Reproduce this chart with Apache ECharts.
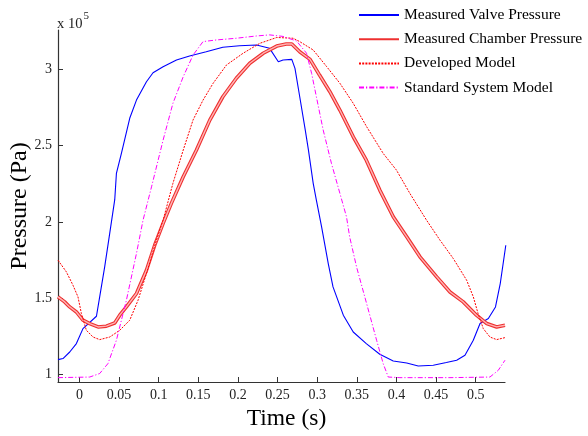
<!DOCTYPE html>
<html><head><meta charset="utf-8">
<script src="https://cdn.jsdelivr.net/npm/echarts@6/dist/echarts.min.js"></script>
<style>html,body{margin:0;padding:0;background:#fff}#c{width:588px;height:436px}</style>
</head><body><div id="c"></div>
<script>
// Time (s) and pressure (x 1e5 Pa)
var valveT = [-0.027,-0.0207,-0.0122,-0.0038,0.0045,0.0215,0.0256,0.0319,0.0383,0.0446,0.0467,0.053,0.0635,0.072,0.0846,0.0929,0.1056,0.1225,0.139,0.160,0.181,0.202,0.2235,0.240,0.251,0.257,0.268,0.272,0.278,0.285,0.289,0.295,0.299,0.3056,0.314,0.320,0.333,0.3455,0.362,0.379,0.396,0.413,0.4275,0.4465,0.463,0.476,0.4865,0.497,0.5055,0.516,0.525,0.531,0.538];
var valveP = [1.098,1.105,1.148,1.203,1.301,1.382,1.509,1.705,1.926,2.145,2.317,2.448,2.678,2.797,2.917,2.976,3.016,3.060,3.086,3.114,3.143,3.153,3.158,3.136,3.048,3.060,3.064,3.005,2.819,2.600,2.470,2.252,2.142,1.967,1.727,1.574,1.389,1.279,1.203,1.133,1.089,1.076,1.056,1.061,1.079,1.094,1.126,1.225,1.334,1.367,1.443,1.596,1.847];

var chamberT = [-0.027,-0.0186,-0.0122,-0.0038,0.0045,0.013,0.0235,0.034,0.0446,0.0509,0.0593,0.072,0.0846,0.095,0.1056,0.116,0.131,0.1477,0.1645,0.181,0.198,0.215,0.232,0.249,0.261,0.268,0.278,0.291,0.303,0.316,0.3286,0.3455,0.362,0.379,0.396,0.413,0.4297,0.4508,0.4676,0.4843,0.501,0.514,0.5265,0.537];
var chamberP = [1.509,1.476,1.443,1.410,1.356,1.334,1.312,1.317,1.338,1.389,1.443,1.531,1.683,1.847,1.990,2.121,2.295,2.470,2.666,2.819,2.940,3.038,3.104,3.151,3.164,3.164,3.114,3.064,2.961,2.852,2.732,2.557,2.404,2.208,2.033,1.902,1.771,1.640,1.541,1.476,1.389,1.334,1.312,1.323];

var developedT = [-0.027,-0.0164,-0.0081,-0.0018,0.0025,0.0088,0.0172,0.0256,0.0383,0.0509,0.0635,0.074,0.0846,0.0972,0.1056,0.118,0.131,0.1434,0.156,0.1687,0.1856,0.2066,0.2277,0.249,0.2697,0.278,0.295,0.312,0.3287,0.3455,0.3624,0.3833,0.400,0.417,0.438,0.455,0.4717,0.4886,0.497,0.503,0.5096,0.518,0.5265,0.537];
var developedP = [1.749,1.672,1.585,1.509,1.400,1.290,1.246,1.229,1.246,1.290,1.356,1.487,1.662,1.880,2.011,2.252,2.470,2.667,2.797,2.907,3.027,3.104,3.169,3.207,3.202,3.180,3.125,3.016,2.907,2.776,2.623,2.448,2.339,2.186,2.011,1.880,1.760,1.618,1.509,1.400,1.301,1.246,1.229,1.242];

var standardT = [-0.027,0.013,0.0256,0.036,0.0467,0.0593,0.072,0.0803,0.091,0.1056,0.118,0.131,0.1434,0.156,0.173,0.198,0.2235,0.240,0.257,0.274,0.2866,0.293,0.299,0.3076,0.318,0.3287,0.337,0.341,0.3497,0.3624,0.375,0.3833,0.3897,0.4044,0.4676,0.518,0.5285,0.537];
var standardP = [0.980,0.984,1.007,1.072,1.225,1.487,1.793,2.011,2.229,2.535,2.776,2.950,3.092,3.180,3.191,3.202,3.217,3.224,3.214,3.184,3.104,2.972,2.819,2.601,2.383,2.186,2.033,1.902,1.705,1.465,1.225,1.072,0.984,0.980,0.980,0.984,1.028,1.094];

var xTicks = [0,0.05,0.1,0.15,0.2,0.25,0.3,0.35,0.4,0.45,0.5];
var yTicks = [1,1.5,2,2.5,3];
var seriesNames = ['Measured Valve Pressure','Measured Chamber Pressure','Developed Model','Standard System Model'];

function pairs(t,p){return t.map(function(v,i){return [v,p[i]];});}
var FONT = '"Liberation Serif", "DejaVu Serif", serif';

var chart = echarts.init(document.getElementById('c'), null, {renderer:'canvas'});
chart.setOption({
  animation:false,
  backgroundColor:'#fff',
  grid:{left:58, top:30, right:83, bottom:54, containLabel:false, outerBoundsMode:'none'},
  legend:{
    orient:'vertical', left:353, top:2, itemGap:8.2, itemWidth:40, itemHeight:14,
    data:seriesNames,
    itemStyle:{opacity:0},
    textStyle:{fontFamily:FONT, fontSize:15.5, color:'#000'}
  },
  xAxis:{
    type:'value', min:-0.027, max:0.537,
    name:'Time (s)', nameLocation:'middle', nameGap:25, nameMoveOverlap:false,
    nameTextStyle:{fontFamily:FONT, fontSize:23.5, color:'#000', padding:[0,0,0,10]},
    axisLine:{onZero:false, lineStyle:{color:'#333', width:1.2}},
    axisTick:{inside:true, length:5, customValues:xTicks, lineStyle:{color:'#333'}},
    axisLabel:{customValues:xTicks, fontFamily:FONT, fontSize:14, color:'#222', margin:6},
    splitLine:{show:false}
  },
  yAxis:{
    type:'value', min:0.9515, max:3.256,
    name:'Pressure (Pa)', nameLocation:'middle', nameGap:26, nameMoveOverlap:false,
    nameTextStyle:{fontFamily:FONT, fontSize:24, color:'#000'},
    axisLine:{show:true, onZero:false, lineStyle:{color:'#333', width:1.2}},
    axisTick:{show:true, inside:true, length:5, customValues:yTicks, lineStyle:{color:'#333'}},
    axisLabel:{customValues:yTicks, fontFamily:FONT, fontSize:14, color:'#222', margin:6},
    splitLine:{show:false}
  },
  graphic:[{
    type:'text', left:57, top:11,
    style:{text:'{a|x 10}{b|5}', rich:{
      a:{fontFamily:FONT, fontSize:14.5, fill:'#222', verticalAlign:'bottom', padding:[6,0,0,0]},
      b:{fontFamily:FONT, fontSize:11, fill:'#222', verticalAlign:'top', padding:[0,0,8,1]}
    }}
  }],
  series:[
    {name:seriesNames[0], type:'line', data:pairs(valveT,valveP), showSymbol:false, symbol:'none',
     lineStyle:{color:'#0000ff', width:1.1}, itemStyle:{color:'#0000ff'}},
    {name:seriesNames[1], type:'line', data:pairs(chamberT,chamberP), showSymbol:false, symbol:'none',
     lineStyle:{color:'#ee3030', width:3.6}, itemStyle:{color:'#f06060'}},
    {name:'chamberInner', type:'line', data:pairs(chamberT,chamberP), showSymbol:false, symbol:'none', silent:true,
     lineStyle:{color:'#ffb4b4', width:1.4}, itemStyle:{color:'#ffb4b4'}},
    {name:seriesNames[2], type:'line', data:pairs(developedT,developedP), showSymbol:false, symbol:'none',
     lineStyle:{color:'#ff0000', width:1, type:[2,1.2]}, itemStyle:{color:'#ff0000'}},
    {name:seriesNames[3], type:'line', data:pairs(standardT,standardP), showSymbol:false, symbol:'none',
     lineStyle:{color:'#ff00ff', width:1, type:[5,2,1.2,2]}, itemStyle:{color:'#ff00ff'}}
  ]
});
</script></body></html>
